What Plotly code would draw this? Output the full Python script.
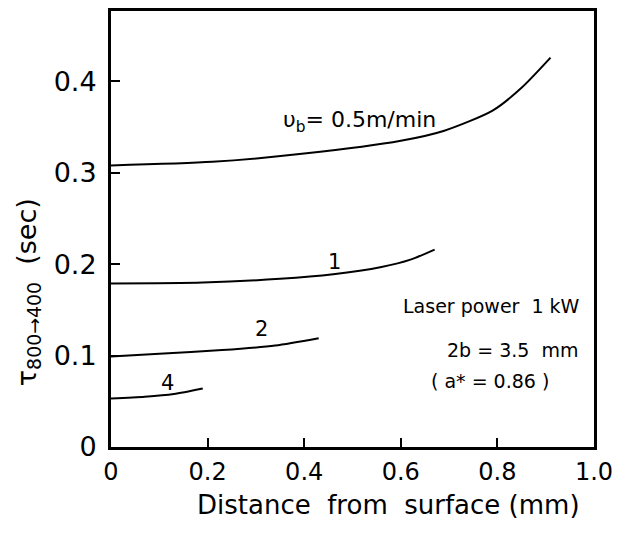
import plotly.graph_objects as go

# Cooling time tau(800->400) vs. depth for several beam traverse speeds
depth_05 = [0.0, 0.21, 0.40, 0.60, 0.69, 0.79, 0.85, 0.91]
tau_05 = [0.308, 0.312, 0.321, 0.335, 0.346, 0.368, 0.393, 0.426]

depth_1 = [0.0, 0.19, 0.35, 0.46, 0.56, 0.62, 0.67]
tau_1 = [0.179, 0.180, 0.184, 0.189, 0.197, 0.205, 0.216]

depth_2 = [0.0, 0.10, 0.23, 0.34, 0.43]
tau_2 = [0.099, 0.102, 0.106, 0.111, 0.119]

depth_4 = [0.0, 0.07, 0.13, 0.19]
tau_4 = [0.053, 0.055, 0.058, 0.064]

x_ticks = [0, 0.2, 0.4, 0.6, 0.8, 1.0]
x_tick_text = ["0", "0.2", "0.4", "0.6", "0.8", "1.0"]
y_ticks = [0, 0.1, 0.2, 0.3, 0.4]
y_tick_text = ["0", "0.1", "0.2", "0.3", "0.4"]

FONT = "DejaVu Sans"

fig = go.Figure()
for xs, ys in [(depth_05, tau_05), (depth_1, tau_1), (depth_2, tau_2), (depth_4, tau_4)]:
    fig.add_trace(go.Scatter(
        x=xs, y=ys, mode="lines",
        line=dict(color="black", width=2, shape="spline", smoothing=0.7),
        showlegend=False, hoverinfo="skip",
    ))

curve_labels = [
    (0.515, 0.356, "υ<sub>b</sub>= 0.5m/min", 22),
    (0.462, 0.202, "1", 21),
    (0.312, 0.129, "2", 21),
    (0.117, 0.070, "4", 21),
]
for x, y, t, s in curve_labels:
    fig.add_annotation(x=x, y=y, text=t, showarrow=False,
                       font=dict(family=FONT, size=s, color="black"))

conditions = [
    (0.975, 0.154, "Laser power  1 kW"),
    (0.97, 0.106, "2b = 3.5  mm"),
    (0.91, 0.072, "( a* = 0.86 )"),
]
for x, y, t in conditions:
    fig.add_annotation(x=x, y=y, text=t, showarrow=False, xanchor="right",
                       font=dict(family=FONT, size=19, color="black"))

# y-axis title, set lower than the plot centre
fig.add_annotation(
    xref="paper", yref="paper", x=-0.172, y=0.355,
    xanchor="center", yanchor="middle",
    text="τ<sub>800→400</sub>  (sec)",
    textangle=-90, showarrow=False,
    font=dict(family=FONT, size=27, color="black"),
)

# x-axis title, slightly right of centre
fig.add_annotation(
    xref="paper", yref="paper", x=0.575, y=-0.132,
    xanchor="center", yanchor="middle",
    text="Distance  from  surface (mm)", showarrow=False,
    font=dict(family=FONT, size=26, color="black"),
)

fig.update_xaxes(
    range=[0, 1.0], tickvals=x_ticks, ticktext=x_tick_text,
    ticks="inside", ticklen=9, tickwidth=2, tickcolor="black",
    showline=True, linewidth=3, linecolor="black", mirror=True,
    showgrid=False, zeroline=False,
    tickfont=dict(family=FONT, size=24, color="black"),
    ticklabelstandoff=1,
)
fig.update_yaxes(
    range=[0, 0.477], tickvals=y_ticks, ticktext=y_tick_text,
    ticks="inside", ticklen=9, tickwidth=2, tickcolor="black",
    showline=True, linewidth=3, linecolor="black", mirror=True,
    showgrid=False, zeroline=False,
    tickfont=dict(family=FONT, size=27, color="black"),
    ticklabelstandoff=6,
)

fig.update_layout(
    width=632, height=538,
    margin=dict(l=111, r=38, t=8, b=91),
    paper_bgcolor="white", plot_bgcolor="white",
)

fig.write_html("out.html")
